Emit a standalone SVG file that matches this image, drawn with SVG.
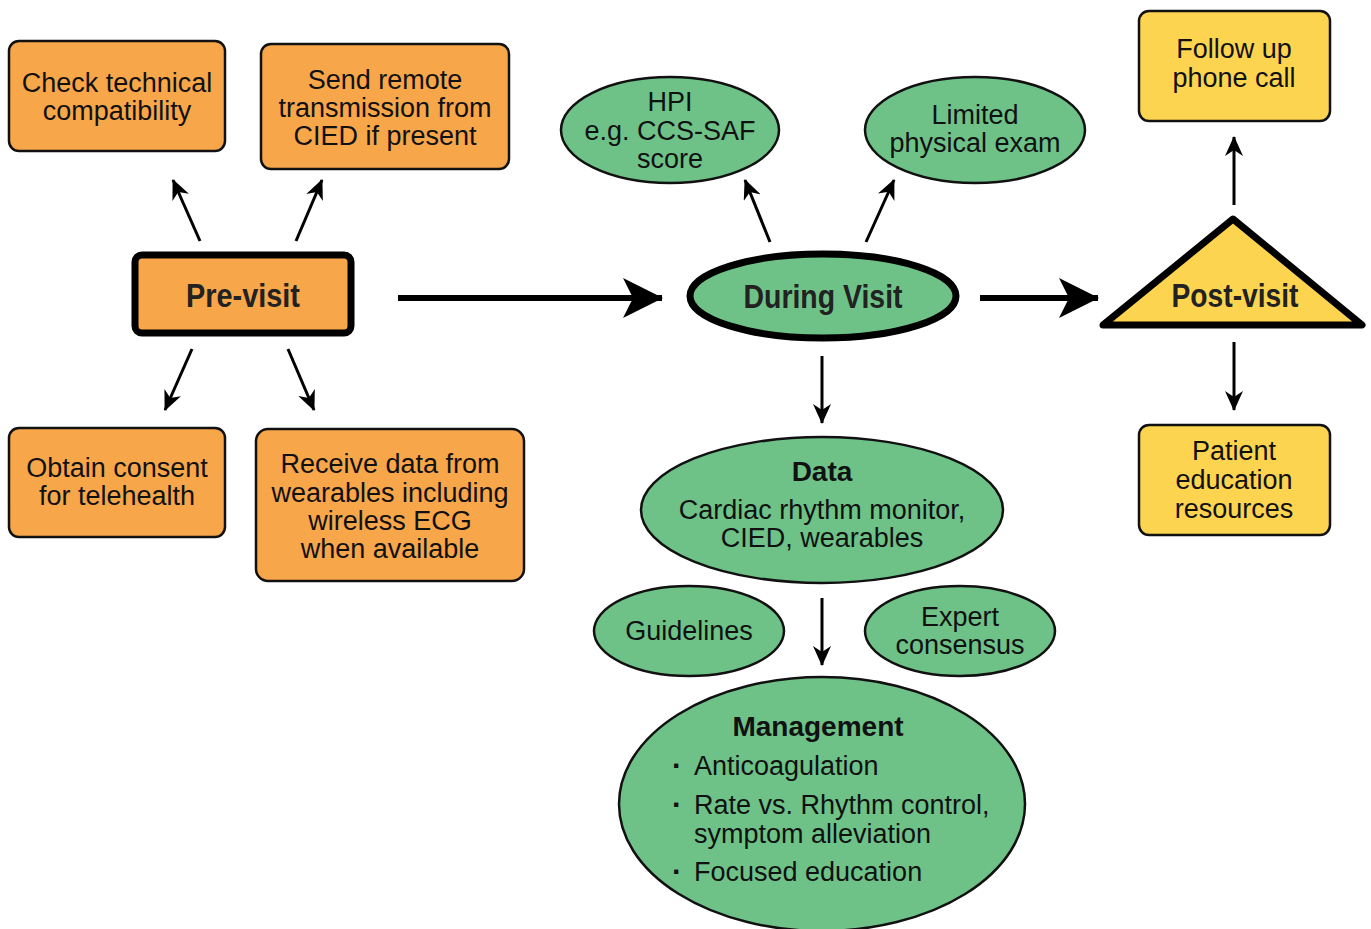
<svg xmlns="http://www.w3.org/2000/svg" width="1371" height="929" viewBox="0 0 1371 929">
<style>
.t{font-family:"Liberation Sans",Arial,sans-serif;font-size:27px;fill:#111;text-anchor:middle}
.s{font-family:"Liberation Sans",Arial,sans-serif;font-size:27px;fill:#111;text-anchor:start}
.d{font-family:"Liberation Sans",Arial,sans-serif;font-size:30px;font-weight:bold;fill:#111;text-anchor:start}
.b{font-family:"Liberation Sans",Arial,sans-serif;font-size:28px;font-weight:bold;fill:#111;text-anchor:middle}
.h{font-family:"Liberation Sans",Arial,sans-serif;font-size:33px;font-weight:bold;fill:#222;text-anchor:middle}
.or{fill:#F8A64A;stroke:#111;stroke-width:2.5}
.gr{fill:#6EC288;stroke:#111;stroke-width:2.5}
.ye{fill:#FDD44F;stroke:#111;stroke-width:2.5}
.thin{stroke:#000;stroke-width:3;fill:none;marker-end:url(#ah)}
.thick{stroke:#000;stroke-width:6;fill:none;marker-end:url(#bh)}
</style>
<defs>
<marker id="ah" markerUnits="userSpaceOnUse" viewBox="0 0 20 18" markerWidth="20" markerHeight="18" refX="19" refY="9" orient="auto">
<path d="M0,0 L20,9 L0,18 L6,9 z" fill="#000"/>
</marker>
<marker id="bh" markerUnits="userSpaceOnUse" viewBox="0 0 40 40" markerWidth="40" markerHeight="40" refX="39" refY="20" orient="auto">
<path d="M0,0 L40,20 L0,40 L10,20 z" fill="#000"/>
</marker>
</defs>
<rect width="1371" height="929" fill="#fff"/>

<g id="connectors">
<line class="thin" x1="200" y1="241" x2="173" y2="180"/>
<line class="thin" x1="296" y1="241" x2="322" y2="180"/>
<line class="thin" x1="192" y1="349" x2="165" y2="410"/>
<line class="thin" x1="288" y1="349" x2="314" y2="410"/>
<line class="thick" x1="398" y1="298" x2="662" y2="298"/>
<line class="thin" x1="770" y1="242" x2="745" y2="180"/>
<line class="thin" x1="866" y1="242" x2="894" y2="180"/>
<line class="thick" x1="980" y1="298" x2="1098" y2="298"/>
<line class="thin" x1="1234" y1="205" x2="1234" y2="137"/>
<line class="thin" x1="1234" y1="342" x2="1234" y2="410"/>
<line class="thin" x1="822" y1="356" x2="822" y2="423"/>
<line class="thin" x1="822" y1="598" x2="822" y2="665"/>
</g>

<g id="check-technical">
<rect class="or" x="9" y="41" width="216" height="110" rx="10"/>
<text class="t" x="117" y="92">Check technical</text>
<text class="t" x="117" y="120">compatibility</text>
</g>
<g id="send-remote">
<rect class="or" x="261" y="44" width="248" height="125" rx="10"/>
<text class="t" x="385" y="89">Send remote</text>
<text class="t" x="385" y="117">transmission from</text>
<text class="t" x="385" y="145">CIED if present</text>
</g>
<g id="pre-visit">
<rect x="135" y="255" width="216" height="78" rx="7" fill="#F8A64A" stroke="#000" stroke-width="7"/>
<text class="h" x="243" y="307" textLength="114" lengthAdjust="spacingAndGlyphs">Pre-visit</text>
</g>
<g id="obtain-consent">
<rect class="or" x="9" y="428" width="216" height="109" rx="10"/>
<text class="t" x="117" y="477">Obtain consent</text>
<text class="t" x="117" y="505">for telehealth</text>
</g>
<g id="receive-data">
<rect class="or" x="256" y="429" width="268" height="152" rx="12"/>
<text class="t" x="390" y="473">Receive data from</text>
<text class="t" x="390" y="502">wearables including</text>
<text class="t" x="390" y="530">wireless ECG</text>
<text class="t" x="390" y="558">when available</text>
</g>
<g id="hpi">
<ellipse class="gr" cx="670" cy="130" rx="109" ry="53"/>
<text class="t" x="670" y="111">HPI</text>
<text class="t" x="670" y="140">e.g. CCS-SAF</text>
<text class="t" x="670" y="168">score</text>
</g>
<g id="limited-exam">
<ellipse class="gr" cx="975" cy="130" rx="110" ry="53"/>
<text class="t" x="975" y="124">Limited</text>
<text class="t" x="975" y="152">physical exam</text>
</g>
<g id="during-visit">
<ellipse cx="823" cy="296" rx="133" ry="42" fill="#6EC288" stroke="#000" stroke-width="7"/>
<text class="h" x="823" y="308" textLength="159" lengthAdjust="spacingAndGlyphs">During Visit</text>
</g>
<g id="data">
<ellipse class="gr" cx="822" cy="510" rx="181" ry="73"/>
<text class="b" x="822" y="481">Data</text>
<text class="t" x="822" y="519">Cardiac rhythm monitor,</text>
<text class="t" x="822" y="547">CIED, wearables</text>
</g>
<g id="guidelines">
<ellipse class="gr" cx="689" cy="631" rx="95" ry="45"/>
<text class="t" x="689" y="640">Guidelines</text>
</g>
<g id="expert-consensus">
<ellipse class="gr" cx="960" cy="631" rx="95" ry="45"/>
<text class="t" x="960" y="626">Expert</text>
<text class="t" x="960" y="654">consensus</text>
</g>
<g id="management">
<ellipse class="gr" cx="822" cy="804" rx="203" ry="127"/>
<text class="b" x="818" y="736">Management</text>
<text class="d" x="672" y="776">·</text>
<text class="s" x="694" y="775">Anticoagulation</text>
<text class="d" x="672" y="815">·</text>
<text class="s" x="694" y="814">Rate vs. Rhythm control,</text>
<text class="s" x="694" y="843">symptom alleviation</text>
<text class="d" x="672" y="882">·</text>
<text class="s" x="694" y="881">Focused education</text>
</g>
<g id="follow-up">
<rect class="ye" x="1139" y="11" width="191" height="110" rx="10"/>
<text class="t" x="1234" y="58">Follow up</text>
<text class="t" x="1234" y="87">phone call</text>
</g>
<g id="post-visit">
<polygon points="1233,219 1362,325 1103,325" fill="#FDD44F" stroke="#000" stroke-width="7" stroke-linejoin="round"/>
<text class="h" x="1235" y="307" textLength="127" lengthAdjust="spacingAndGlyphs">Post-visit</text>
</g>
<g id="patient-education">
<rect class="ye" x="1139" y="425" width="191" height="110" rx="10"/>
<text class="t" x="1234" y="460">Patient</text>
<text class="t" x="1234" y="489">education</text>
<text class="t" x="1234" y="518">resources</text>
</g>
</svg>
